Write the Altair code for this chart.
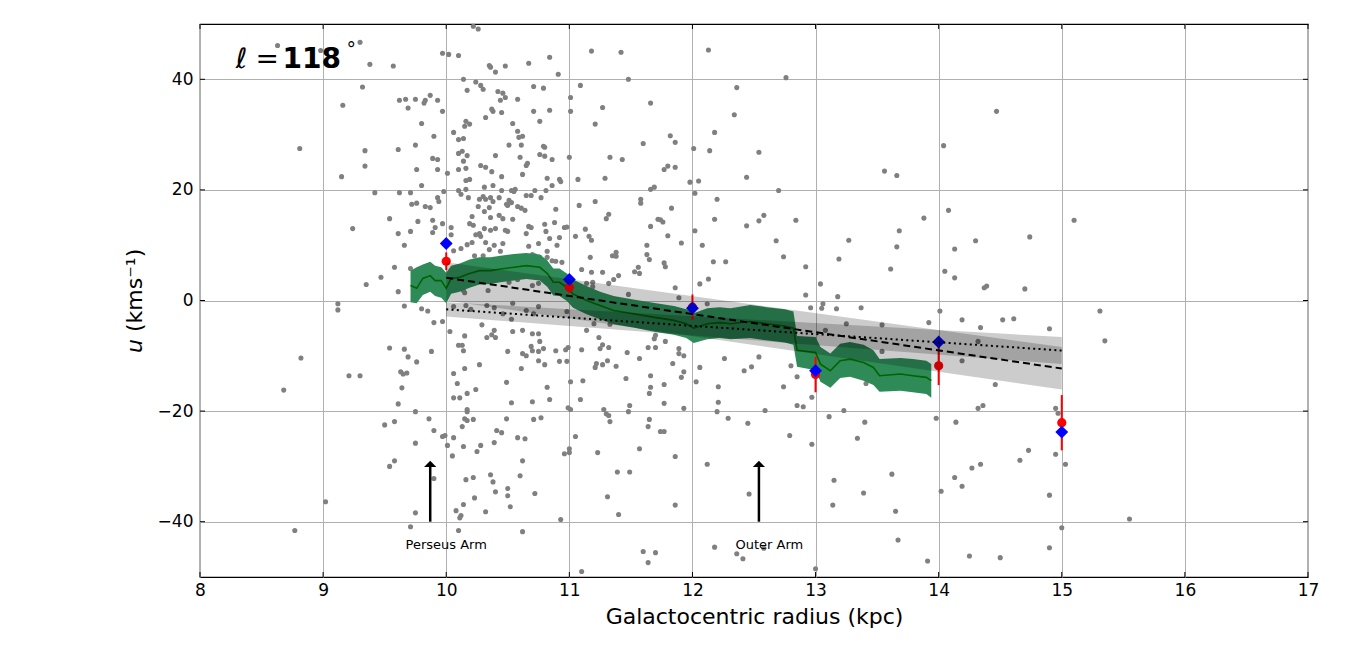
import altair as alt
import pandas as pd

# ---------------------------------------------------------------- data
# individual stars: galactocentric radius (kpc) and radial velocity u (km/s)
star_r = [
    8.63, 8.98, 9.30, 9.38, 9.57, 9.32, 9.16, 9.62, 9.67, 9.75, 9.83, 9.82, 9.87, 9.69, 9.80,
    8.81, 9.34, 9.61, 9.75, 9.34, 9.15, 9.76, 9.80, 9.42, 9.62, 9.71, 9.72, 9.76, 9.83, 9.87,
    9.54, 9.77, 9.24, 9.61, 9.71, 9.66, 9.58, 9.47, 9.35, 9.61, 9.71,
    9.12, 9.12, 9.66, 9.80, 9.85, 9.54, 9.66, 9.69, 9.76, 8.82, 9.21, 9.30, 9.63, 9.65, 9.68,
    8.68, 9.64, 9.61, 9.75, 9.86, 9.50, 9.58, 9.75, 9.58, 9.54, 9.02, 9.75, 8.77, 9.71,
    10.22, 10.26, 9.97, 10.02, 10.10, 10.84, 11.18, 11.42, 10.35, 10.36, 10.48, 10.67, 10.40,
    10.91, 10.14, 10.24, 10.28, 10.30, 10.17, 10.71, 10.79, 11.09, 11.48, 10.42, 10.46, 10.48,
    10.44, 10.58, 11.01, 9.93, 9.97, 10.37, 10.38, 10.45, 10.71, 10.84, 11.01, 11.27, 11.66,
    10.32, 10.76, 10.16, 10.19, 10.15, 10.54, 11.21, 10.06, 9.90, 10.58, 10.62, 10.59, 10.10,
    10.14, 10.51, 10.61, 10.79, 10.80, 11.60, 10.13, 10.10, 10.17, 10.40, 10.76, 10.80, 10.60,
    10.86, 11.00, 9.89, 9.93, 11.33, 11.43, 10.14, 10.66, 10.65, 10.28, 10.32, 9.93, 10.10,
    10.16, 10.37, 10.01, 10.62, 10.45, 10.82, 10.92, 10.93, 11.07, 11.29, 10.16, 10.19, 10.38,
    10.31, 10.45, 10.53, 10.56, 10.55, 10.72, 10.81, 10.86, 9.98, 10.10, 10.12, 10.16, 11.66,
    11.69, 10.30, 10.32, 10.36, 10.43, 10.51, 10.53, 10.49, 10.50, 10.65, 10.69, 10.77, 9.93,
    9.94, 10.18, 10.27, 10.38, 10.35, 10.26, 10.58, 10.61, 10.64, 10.89, 11.08, 11.21, 11.58,
    11.58, 10.31, 10.43, 10.36, 10.46, 10.21, 10.54, 11.32, 11.30, 11.72, 9.89, 10.19, 10.22,
    9.97, 10.31, 10.36, 10.40, 10.48, 10.50, 10.67, 10.65, 10.69, 10.80, 10.81, 10.88, 10.96,
    10.98, 11.13, 11.66, 9.91, 10.04, 9.89, 10.04, 10.24, 10.28, 10.27, 11.05, 11.16, 11.18,
    10.84, 10.92, 10.32, 10.39, 10.46, 10.21, 10.17, 10.12, 10.06, 10.67, 10.75, 10.90, 10.23,
    10.30, 10.35, 10.44, 11.63, 10.70, 10.72, 10.76, 10.82, 10.82, 10.86, 10.89, 10.94, 11.17,
    11.35, 11.38, 11.38, 11.63, 11.65, 11.10, 11.18, 11.27, 11.40, 11.36, 11.32, 11.53, 11.56,
    11.57, 11.14, 11.19, 11.19, 11.48, 10.51, 10.58, 10.34, 10.15, 10.14, 10.70, 10.75, 10.87,
    10.92,
    9.90, 9.97, 9.88, 10.03, 10.06, 10.16, 10.20, 10.33, 10.39, 10.54, 10.75, 10.46, 10.53,
    10.65, 10.71, 10.98, 10.29, 10.15, 10.33, 10.37, 10.39, 10.40, 10.54, 10.62, 10.70, 10.75,
    10.76, 10.79, 10.75, 10.70, 10.69, 10.10, 10.13, 10.14, 10.50, 10.62, 10.65, 10.89, 10.97,
    10.99, 11.14, 11.20, 11.33, 11.10, 11.24, 11.27, 11.25, 11.32, 11.47, 11.57, 11.64, 11.70,
    11.69, 11.70, 10.27, 10.15, 10.06, 10.09, 10.75, 10.80, 10.92, 10.98, 10.61, 10.49, 10.24,
    10.17, 10.11, 10.06, 10.53, 10.70, 10.82, 10.84, 11.01, 11.11, 11.09, 11.21, 11.22, 11.27,
    11.31, 11.38, 11.46, 11.66, 11.66, 11.65, 10.99, 11.01, 11.28, 11.30, 11.32, 11.33, 11.48,
    11.49, 11.65, 11.64, 10.17, 10.17, 10.15, 10.17, 10.22, 10.49, 10.71, 10.77, 10.13, 10.06,
    10.01, 10.05, 9.90, 9.97, 9.99, 10.41, 10.45, 10.39, 10.28, 10.25, 10.14, 10.58, 10.64,
    11.05, 11.00, 11.00, 10.96, 11.23, 11.57, 10.62, 10.60, 10.36, 10.38, 10.22, 10.16, 9.90,
    10.40, 10.50, 10.50, 10.52, 10.72, 10.23, 10.14, 10.08, 10.12, 10.11, 10.32, 11.39, 11.49,
    11.31, 11.40, 10.93, 10.10, 10.62, 11.60, 11.70, 11.64, 11.10,
    12.13, 12.76, 12.36, 12.34, 12.18, 11.82, 11.86, 12.01, 12.14, 12.54, 11.77, 11.80, 11.86,
    12.44, 11.98, 12.05, 12.70, 12.02, 12.20, 11.83, 11.74, 11.76, 12.18, 12.44, 12.54, 12.58,
    12.84, 11.80, 12.02, 11.91, 12.08, 12.68, 12.74, 12.17, 12.27, 11.77, 11.78, 12.92, 12.13,
    12.06, 11.86, 11.89, 12.92, 13.04, 13.18, 13.27, 13.19, 13.56, 13.66, 13.68, 13.66, 13.61,
    13.88, 14.04, 14.47, 14.08, 14.13, 14.30, 14.74, 14.05, 14.13, 14.37, 14.39, 14.70, 15.10,
    12.12, 11.78, 11.89, 11.89, 11.93, 11.84, 11.93, 11.91, 12.06, 12.03, 11.77, 11.77, 11.93,
    12.21, 12.21, 12.20, 12.26, 12.42, 12.48, 12.54, 12.59, 12.74, 12.80, 12.85, 12.85, 12.90,
    12.96, 13.05, 13.06, 13.17, 13.37, 13.25, 13.08, 13.54, 13.54, 12.97, 13.23, 13.41, 13.92,
    14.01, 14.19, 14.34, 14.52, 14.61, 14.90, 14.32, 14.19, 14.46, 14.32, 14.36, 13.98, 14.14,
    13.11, 13.40, 13.34, 12.29, 12.45, 11.74, 11.77, 12.79, 12.97, 11.86, 12.12, 12.46, 11.86,
    13.15, 13.14, 13.39, 13.62, 13.65, 14.02, 14.13, 14.19, 14.27, 14.34, 14.66, 14.73, 14.95,
    15.03, 14.90, 14.95, 14.97, 15.31, 15.35, 12.18, 12.36, 12.41, 12.58, 13.00, 13.67, 13.91,
    14.25, 14.50, 14.90, 15.00, 15.55,
]
star_u = [
    46.1, 45.2, 46.7, 42.7, 42.4, 38.6, 35.3, 36.2, 36.4, 36.4, 36.2, 35.7, 37.1, 34.8, 32.0,
    27.5, 27.1, 27.3, 28.1, 24.3, 22.4, 23.7, 20.8, 19.5, 19.5, 19.5, 17.4, 17.6, 17.0, 16.8,
    14.8, 14.3, 13.0, 12.1, 12.5, 10.0, 6.0, 4.2, 2.9, 1.6, 5.8,
    -0.6, -1.7, -1.0, -1.5, -1.9, -8.6, -8.8, -10.2, -11.1, -10.4, -13.6, -13.6, -12.9, -13.3, -13.1,
    -16.2, -15.8, -18.7, -20.1, -21.4, -22.5, -21.9, -25.8, -29.0, -30.0, -36.4, -38.4, -41.6, -40.9,
    49.6, 49.1, 44.7, 44.5, 44.3, 44.0, 45.1, 44.9, 42.5, 42.2, 42.4, 42.9, 41.3,
    40.9, 40.0, 39.5, 38.9, 38.2, 38.0, 38.7, 38.4, 38.9, 40.0, 37.8, 37.5, 36.7,
    36.2, 36.4, 36.7, 36.2, 34.2, 34.6, 34.2, 34.0, 34.2, 34.4, 34.2, 34.9, 35.7,
    33.1, 32.4, 32.4, 31.9, 31.5, 32.0, 31.9, 30.4, 29.7, 30.6, 29.7, 29.5, 29.1,
    29.3, 28.1, 28.1, 27.9, 27.7, 28.4, 27.0, 26.6, 26.2, 26.2, 26.4, 26.1, 25.9,
    25.5, 25.9, 25.7, 25.5, 25.9, 25.5, 25.2, 24.8, 24.4, 24.4, 24.1, 23.7, 23.7,
    23.9, 23.3, 23.0, 22.8, 22.4, 22.1, 21.9, 21.5, 21.9, 22.1, 21.7, 21.9, 20.8,
    20.5, 19.9, 19.9, 20.1, 19.7, 19.9, 19.9, 20.8, 19.7, 19.9, 19.2, 20.1, 20.1,
    20.5, 18.8, 18.3, 18.6, 18.6, 18.1, 17.7, 17.4, 17.2, 19.0, 19.0, 18.6, 18.6,
    17.9, 18.6, 18.3, 17.9, 16.8, 17.0, 17.0, 16.7, 16.3, 16.5, 17.2, 17.9, 18.3,
    17.6, 16.1, 15.4, 15.0, 14.8, 15.2, 14.7, 15.6, 14.8, 14.7, 14.5, 13.9, 13.6,
    13.9, 13.0, 12.7, 13.0, 12.7, 12.5, 13.4, 12.1, 13.2, 13.8, 12.5, 14.1, 13.2,
    13.3, 12.9, 13.4, 13.2, 13.2, 12.3, 11.9, 11.9, 11.6, 12.1, 11.6, 11.6, 10.9,
    11.2, 11.4, 10.5, 10.0, 10.3, 10.5, 10.1, 9.4, 9.0, 9.8, 10.3, 10.0, 8.1,
    8.1, 9.2, 8.9, 10.0, 8.3, 8.1, 7.8, 8.9, 7.8, 7.2, 7.1, 6.9, 7.8,
    8.1, 8.7, 8.0, 8.3, 7.4, 5.6, 5.1, 5.1, 4.5, 3.8, 3.1, 5.2, 6.0,
    4.9, 3.1, 3.3, 2.5, 1.1, 3.3, 3.8, 1.8, 1.4, 1.8, 2.7, 3.1, 2.2,
    2.4,
    -4.0, -3.8, -9.2, -5.6, -1.1, -0.9, -1.6, -0.9, -1.3, -0.5, -1.1, -2.4, -3.4,
    -1.8, -2.4, -2.0, -4.4, -6.4, -6.7, -6.2, -5.4, -6.7, -5.6, -5.4, -6.0, -6.0,
    -7.4, -8.7, -9.2, -9.1, -8.3, -8.1, -8.1, -9.1, -9.2, -9.6, -10.0, -9.1, -8.9,
    -8.5, -5.4, -4.2, -4.3, -8.9, -6.7, -8.0, -8.7, -8.5, -9.4, -10.5, -8.5, -8.5,
    -6.9, -6.3, -11.6, -12.3, -13.2, -15.0, -10.9, -11.6, -11.0, -11.0, -12.3, -14.8, -16.1,
    -16.8, -17.6, -17.6, -18.5, -18.3, -15.7, -17.9, -14.7, -14.5, -17.9, -12.1, -11.4, -11.6,
    -10.9, -11.9, -14.1, -13.6, -15.7, -16.8, -19.4, -19.7, -19.7, -20.5, -20.8, -21.9, -20.1,
    -19.0, -21.5, -22.8, -19.7, -20.1, -21.4, -21.7, -21.5, -21.4, -21.5, -21.2, -22.8, -24.8,
    -26.2, -28.1, -23.5, -24.6, -24.4, -23.5, -23.9, -25.7, -26.2, -27.3, -26.4, -24.8, -25.0,
    -24.6, -26.8, -27.5, -27.7, -27.5, -26.8, -29.0, -31.7, -31.5, -32.8, -32.0, -32.4, -32.2,
    -34.6, -34.0, -35.3, -37.3, -34.9, -35.7, -36.9, -38.0, -38.9, -39.3, -38.2, -31.0, -31.0,
    -35.5, -38.7, -39.6, -41.6, -41.8, -45.4, -45.6, -47.4, -49.0,
    45.3, 40.3, 38.5, 33.6, 30.4, 29.8, 28.6, 27.5, 27.1, 26.8, 23.7, 24.3, 24.1,
    22.3, 21.4, 21.6, 19.9, 19.4, 18.3, 16.7, 14.6, 14.2, 14.7, 13.5, 14.4, 15.4,
    14.5, 11.7, 12.6, 10.4, 10.0, 10.8, 7.9, 7.0, 7.0, 6.8, 6.1, 6.1, 3.9,
    3.0, 2.3, 0.5, 1.0, 3.0, 0.7, 10.9, 7.5, 23.4, 22.6, 12.6, 9.7, 5.7,
    14.9, 28.0, 34.2, 16.3, 9.3, 10.8, 11.5, 5.3, 4.1, 2.3, 2.6, 2.1, 14.5,
    -0.6, -7.4, -8.7, -9.6, -10.0, -11.4, -12.9, -13.9, -12.1, -14.7, -15.2, -18.6, -19.5,
    -15.6, -18.4, -20.1, -10.5, -12.7, -12.0, -10.2, -19.9, -15.6, -11.8, -13.8, -19.0, -19.2,
    -1.3, -1.4, -0.6, -1.5, -1.3, -4.2, -5.4, -4.4, -9.2, -17.5, -19.9, -15.0, -4.0,
    -1.9, -3.5, -4.9, -3.5, -3.3, -5.1, -7.4, -10.9, -15.2, -19.5, -19.0, -21.3, -22.0,
    -21.0, -22.0, -24.9, -21.3, -22.2, -23.7, -23.7, -24.4, -26.0, -28.2, -29.6, -35.0, -37.0,
    -32.5, -37.0, -34.8, -31.4, -38.1, -34.5, -32.0, -33.6, -30.3, -29.6, -28.9, -27.1, -27.8,
    -29.6, -35.2, -19.5, -20.4, -1.9, -7.3, -44.6, -45.8, -46.7, -44.8, -48.5, -43.3, -47.1,
    -46.2, -46.5, -44.7, -41.1, -39.5,
]

# running median of u along radius, with its spread
med_r = [9.71, 9.76, 9.81, 9.87, 9.91, 9.96, 10.00, 10.04, 10.11, 10.19, 10.27, 10.36, 10.44,
         10.55, 10.65, 10.76, 10.82, 10.87, 10.92, 10.98, 11.03, 11.14, 11.25, 11.36, 11.52,
         11.68, 11.85, 11.95, 12.01, 12.12, 12.22, 12.31, 12.47, 12.60, 12.75, 12.82, 12.85,
         13.00, 13.04, 13.12, 13.20, 13.28, 13.39, 13.47, 13.52, 13.69, 13.79, 13.90, 13.94]
med_u = [2.7, 2.2, 4.0, 4.5, 3.6, 3.6, 2.2, 4.0, 4.2, 4.9, 5.4, 5.4, 5.7,
         6.0, 6.3, 6.0, 4.9, 3.3, 3.3, 2.4, 1.2, 0.0, -0.9, -1.8, -2.4,
         -3.0, -3.6, -4.2, -5.0, -4.2, -4.0, -4.2, -3.8, -4.2, -4.6, -5.0, -9.0,
         -9.4, -11.5, -12.7, -10.9, -10.6, -11.2, -12.1, -13.6, -13.3, -13.6, -13.9, -14.5]
med_lo = [-0.3, -0.5, 1.0, 1.6, 0.8, 0.5, -0.5, 1.2, 1.6, 2.3, 2.9, 3.0, 3.3,
          3.6, 3.9, 3.6, 2.5, 0.9, 0.8, -0.1, -1.3, -2.5, -3.4, -4.3, -4.9,
          -5.6, -6.2, -6.8, -7.7, -7.0, -6.8, -7.0, -6.8, -7.2, -7.6, -8.0, -12.0,
          -12.6, -14.7, -15.8, -14.0, -13.8, -14.5, -15.3, -16.5, -16.3, -16.6, -16.9, -17.6]
med_hi = [5.4, 6.0, 6.5, 7.0, 6.3, 6.0, 5.0, 6.3, 6.7, 7.4, 7.8, 7.8, 8.1,
          8.4, 8.6, 8.3, 7.3, 5.8, 5.8, 4.9, 3.8, 2.6, 1.6, 0.8, 0.2,
          -0.4, -1.0, -1.6, -2.3, -1.4, -1.2, -1.4, -0.8, -1.2, -1.6, -2.0, -6.4,
          -6.6, -8.4, -9.6, -7.8, -7.5, -8.0, -9.0, -10.6, -10.4, -10.6, -10.9, -11.5]

# binned means (red, with errors) and binned medians (blue) at integer radii
bin_r = [10, 11, 12, 13, 14, 15]
bin_mean = [7.1, 2.4, -1.2, -13.4, -11.8, -22.1]
bin_err = [1.6, 1.0, 2.3, 3.2, 3.5, 5.0]
bin_median = [10.3, 3.8, -1.4, -12.7, -7.5, -23.8]

# linear fits over 10-15 kpc with their confidence envelopes
fit_r = [10, 15]
fit_a_u = [4.1, -12.3]
fit_a_lo = [0.0, -16.1]
fit_a_hi = [6.9, -8.4]
fit_b_u = [-1.6, -9.05]
fit_b_lo = [-2.9, -11.5]
fit_b_hi = [-0.3, -6.6]

# spiral arm positions
arm_r = [9.87, 12.54]
arm_name = ["Perseus Arm", "Outer Arm"]
arm_label_r = [9.67, 12.35]
arrow_base, arrow_top, label_u = -40.0, -30.1, -44.3

x_ticks = list(range(8, 18))
y_ticks = [-40, -20, 0, 20, 40]

# ---------------------------------------------------------------- chart
W, H = 1108, 553
FONT = "DejaVu Sans"
xs = alt.Scale(domain=[8, 17], nice=False, zero=False)
ys = alt.Scale(domain=[-50, 50], nice=False, zero=False)
xax = alt.Axis(values=x_ticks, title="Galactocentric radius (kpc)", format="d",
               labelFlush=False, labelOverlap=False, labelPadding=5, titlePadding=8)
yax = alt.Axis(values=y_ticks, title=None, format="d",
               labelFlush=False, labelOverlap=False, labelPadding=7)


def X(field="r"):
    return alt.X(f"{field}:Q", scale=xs, axis=xax)


def Y(field="u"):
    return alt.Y(f"{field}:Q", scale=ys, axis=yax)


stars = pd.DataFrame({"r": star_r, "u": star_u})
med = pd.DataFrame({"r": med_r, "u": med_u, "lo": med_lo, "hi": med_hi})
bins = pd.DataFrame({"r": bin_r, "u": bin_mean, "med": bin_median,
                     "lo": [m - e for m, e in zip(bin_mean, bin_err)],
                     "hi": [m + e for m, e in zip(bin_mean, bin_err)]})
fit_a = pd.DataFrame({"r": fit_r, "u": fit_a_u, "lo": fit_a_lo, "hi": fit_a_hi})
fit_b = pd.DataFrame({"r": fit_r, "u": fit_b_u, "lo": fit_b_lo, "hi": fit_b_hi})
arms = pd.DataFrame({"r": arm_r, "name": arm_name, "lr": arm_label_r,
                     "u0": [arrow_base] * 2, "u1": [arrow_top] * 2,
                     "head": [arrow_top + 0.55] * 2, "lu": [label_u] * 2})
xt = pd.DataFrame({"r": x_ticks})
yt = pd.DataFrame({"u": y_ticks})

points = alt.Chart(stars).mark_circle(size=26, color="#808080", opacity=1).encode(x=X(), y=Y())

med_band = alt.Chart(med).mark_area(color="#2e8b57", opacity=1).encode(
    x=X(), y=Y("lo"), y2="hi:Q")
med_line = alt.Chart(med).mark_line(color="#006400", strokeWidth=1.6).encode(x=X(), y=Y())

err = alt.Chart(bins).mark_rule(color="red", strokeWidth=2).encode(x=X(), y=Y("lo"), y2="hi:Q")
means = alt.Chart(bins).mark_point(shape="circle", filled=True, size=85, color="red",
                                   opacity=1).encode(x=X(), y=Y())
medians = alt.Chart(bins).mark_point(shape="diamond", filled=True, size=165, color="blue",
                                     opacity=1).encode(x=X(), y=Y("med"))

band_a = alt.Chart(fit_a).mark_area(color="black", opacity=0.2).encode(
    x=X(), y=Y("lo"), y2="hi:Q")
band_b = alt.Chart(fit_b).mark_area(color="black", opacity=0.2).encode(
    x=X(), y=Y("lo"), y2="hi:Q")
line_a = alt.Chart(fit_a).mark_line(color="black", strokeWidth=2, strokeDash=[7, 4]).encode(
    x=X(), y=Y())
line_b = alt.Chart(fit_b).mark_line(color="black", strokeWidth=2, strokeDash=[2, 3.3]).encode(
    x=X(), y=Y())

shaft = alt.Chart(arms).mark_rule(color="black", strokeWidth=2.5).encode(
    x=X(), y=Y("u0"), y2="u1:Q")
head = alt.Chart(arms).mark_point(shape="M -1 0.5 L 1 0.5 L 0 -0.5 Z", filled=True, size=150,
                                  color="black", opacity=1).encode(x=X(), y=Y("head"))
arm_text = alt.Chart(arms).mark_text(align="left", baseline="middle", font=FONT, fontSize=13,
                                     color="black").encode(x=X("lr"), y=Y("lu"), text="name:N")

# panel label  "ℓ = 118°"
lab = pd.DataFrame({"r": [8.29, 8.45, 8.67, 9.19], "u": [42.0, 42.0, 42.0, 44.3],
                    "t": ["ℓ", "=", "118", "°"]})


def piece(i, **kw):
    return alt.Chart(lab.iloc[[i]]).mark_text(align="left", baseline="alphabetic", font=FONT,
                                              color="black", **kw).encode(
        x=X(), y=Y(), text="t:N")


label_l = piece(0, fontSize=28, fontStyle="italic")
label_eq = piece(1, fontSize=28)
label_num = piece(2, fontSize=28, fontWeight="bold")
label_deg = piece(3, fontSize=19)

# y-axis title with italic u
ytitle_u = alt.Chart(pd.DataFrame({"t": ["u"]})).mark_text(
    angle=270, align="left", baseline="middle", font=FONT, fontSize=22, fontStyle="italic",
    color="black").encode(x=alt.value(-65), y=alt.value(329), text="t:N")
ytitle_rest = alt.Chart(pd.DataFrame({"t": ["(kms⁻¹)"]})).mark_text(
    angle=270, align="left", baseline="middle", font=FONT, fontSize=22,
    color="black").encode(x=alt.value(-65), y=alt.value(308), text="t:N")

# inward ticks on all four sides
tick_b = alt.Chart(xt).mark_rule(color="black", strokeWidth=1).encode(
    x=X(), y=alt.value(H), y2=alt.value(H - 5))
tick_t = alt.Chart(xt).mark_rule(color="black", strokeWidth=1).encode(
    x=X(), y=alt.value(0), y2=alt.value(5))
tick_l = alt.Chart(yt).mark_rule(color="black", strokeWidth=1).encode(
    y=Y(), x=alt.value(0), x2=alt.value(5))
tick_r = alt.Chart(yt).mark_rule(color="black", strokeWidth=1).encode(
    y=Y(), x=alt.value(W), x2=alt.value(W - 5))

chart = alt.layer(
    points, med_band, med_line, err, means, medians, band_a, band_b, line_a, line_b,
    shaft, head, arm_text, label_l, label_eq, label_num, label_deg, ytitle_u, ytitle_rest,
    tick_b, tick_t, tick_l, tick_r,
).properties(
    width=W, height=H,
    padding={"left": 200, "top": 24, "right": 58, "bottom": 94},
    autosize=alt.AutoSizeParams(type="none"),
    background="white",
).configure_view(
    stroke="black", strokeWidth=1.2,
).configure_axis(
    grid=True, gridColor="#b0b0b0", gridWidth=1, gridOpacity=1,
    domain=False, ticks=False,
    labelFont=FONT, labelFontSize=17, labelColor="black",
    titleFont=FONT, titleFontSize=22, titleFontWeight="normal", titleColor="black",
)

chart.save("out.html", embed_options={"renderer": "svg", "actions": False})
